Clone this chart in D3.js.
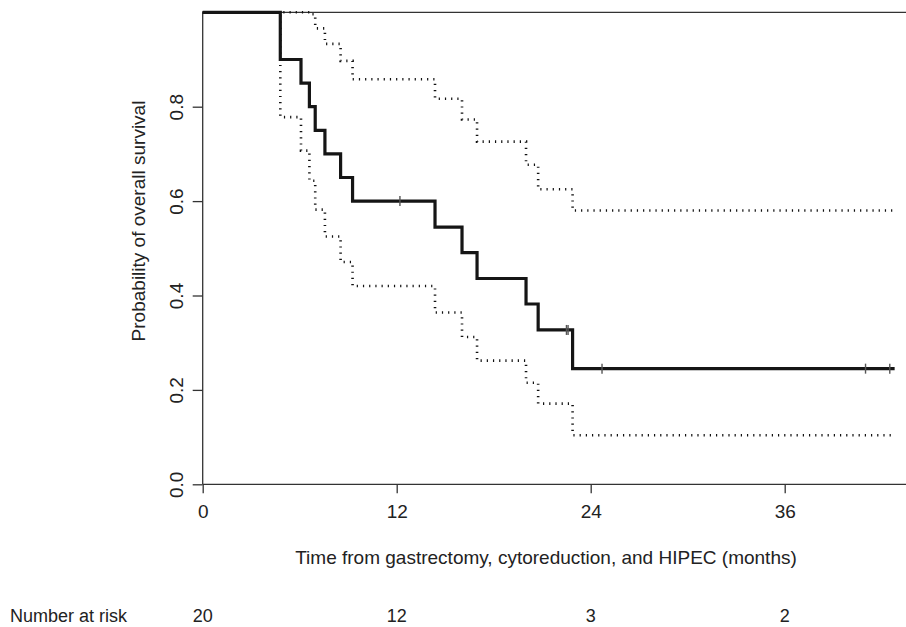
<!DOCTYPE html>
<html>
<head>
<meta charset="utf-8">
<script src="https://cdn.jsdelivr.net/npm/d3@7"></script>
<style>
  body { margin: 0; background: #fff; }
  text { font-family: "Liberation Sans", Arial, sans-serif; fill: #222; }
  .frame { stroke: #333; stroke-width: 1.3; }
  .tick line { stroke: #333; stroke-width: 1.3; }
</style>
</head>
<body>
<script>
// Kaplan-Meier estimate, step times in months
var stepTimes = [0, 4.8, 6.08, 6.6, 6.96, 7.56, 8.53, 9.27, 14.37, 16.04, 16.97, 20.0, 20.75, 22.88, 42.8];
var survProb  = [1, 0.9, 0.85, 0.8, 0.75, 0.7, 0.65, 0.6, 0.545, 0.491, 0.436, 0.382, 0.327, 0.245, 0.245];
var upperCI   = [1, 1, 1, 0.996, 0.966, 0.933, 0.897, 0.858, 0.817, 0.773, 0.726, 0.677, 0.625, 0.58, 0.58];
var lowerCI   = [1, 0.778, 0.707, 0.643, 0.582, 0.525, 0.471, 0.42, 0.364, 0.312, 0.262, 0.215, 0.171, 0.104, 0.104];
var censorTimes = [12.2, 22.5, 22.6, 24.7, 41.0, 42.5];

var xTicks = [0, 12, 24, 36];
var yTicks = [0, 0.2, 0.4, 0.6, 0.8];
var atRisk = [20, 12, 3, 2];

var width = 906, height = 627;

var svg = d3.select("body").append("svg")
	.attr("width", width)
	.attr("height", height);

var x = d3.scaleLinear().domain([0, 36]).range([202.7, 784.7]);
var y = d3.scaleLinear().domain([0, 1]).range([484.3, 12.3]);

// frame lines (plot is cut off on the right)
svg.append("line").attr("class", "frame")
	.attr("x1", x(0)).attr("x2", width).attr("y1", y(1)).attr("y2", y(1));
svg.append("line").attr("class", "frame")
	.attr("x1", x(0)).attr("x2", width).attr("y1", y(0)).attr("y2", y(0));
svg.append("line").attr("class", "frame")
	.attr("x1", x(0)).attr("x2", x(0)).attr("y1", y(1)).attr("y2", y(0));

// axes
var yAxis = svg.append("g")
	.attr("transform", "translate(" + x(0) + ",0)")
	.call(d3.axisLeft(y).tickValues(yTicks).tickSize(10).tickFormat(d3.format(".1f")));
yAxis.select(".domain").remove();
yAxis.selectAll(".tick text")
	.attr("x", null).attr("dy", null)
	.attr("text-anchor", "middle")
	.attr("dominant-baseline", "central")
	.attr("transform", "translate(-26,0) rotate(-90)")
	.style("font-size", "19px");

var xAxis = svg.append("g")
	.attr("transform", "translate(0," + y(0) + ")")
	.call(d3.axisBottom(x).tickValues(xTicks).tickSize(9));
xAxis.select(".domain").remove();
xAxis.selectAll(".tick text")
	.attr("y", 34).attr("dy", null)
	.style("font-size", "19px");

// axis titles
svg.append("text")
	.attr("transform", "translate(138,221) rotate(-90)")
	.attr("text-anchor", "middle")
	.attr("dominant-baseline", "central")
	.style("font-size", "19px")
	.text("Probability of overall survival");

svg.append("text")
	.attr("x", 546).attr("y", 564)
	.attr("text-anchor", "middle")
	.style("font-size", "19px")
	.text("Time from gastrectomy, cytoreduction, and HIPEC (months)");

// number at risk row
svg.append("text")
	.attr("x", 10).attr("y", 622)
	.style("font-size", "18px")
	.text("Number at risk");

svg.selectAll(".risk")
	.data(atRisk)
	.enter()
	.append("text")
	.attr("class", "risk")
	.attr("x", function(d, i){ return x(xTicks[i]); })
	.attr("y", 622)
	.attr("text-anchor", "middle")
	.style("font-size", "18px")
	.text(function(d){ return d; });

// curves
var stepLine = function(vals){
	return d3.line()
		.x(function(d, i){ return x(stepTimes[i]); })
		.y(function(d){ return y(d); })
		.curve(d3.curveStepAfter)(vals);
};

svg.append("path")
	.attr("d", stepLine(upperCI))
	.attr("fill", "none")
	.attr("stroke", "#111")
	.attr("stroke-width", 2.6)
	.attr("stroke-dasharray", "1.2,5");

svg.append("path")
	.attr("d", stepLine(lowerCI))
	.attr("fill", "none")
	.attr("stroke", "#111")
	.attr("stroke-width", 2.6)
	.attr("stroke-dasharray", "1.2,5");

svg.append("path")
	.attr("d", stepLine(survProb))
	.attr("fill", "none")
	.attr("stroke", "#151515")
	.attr("stroke-width", 3.2);

// censor marks
function survAt(t){
	var v = 1;
	for (var i = 0; i < stepTimes.length; i++){
		if (stepTimes[i] <= t) v = survProb[i];
	}
	return v;
}

svg.selectAll(".censor")
	.data(censorTimes)
	.enter()
	.append("line")
	.attr("class", "censor")
	.attr("x1", function(d){ return x(d); })
	.attr("x2", function(d){ return x(d); })
	.attr("y1", function(d){ return y(survAt(d)) - 5; })
	.attr("y2", function(d){ return y(survAt(d)) + 5; })
	.attr("stroke", "#555")
	.attr("stroke-width", 1.4);
</script>
</body>
</html>
